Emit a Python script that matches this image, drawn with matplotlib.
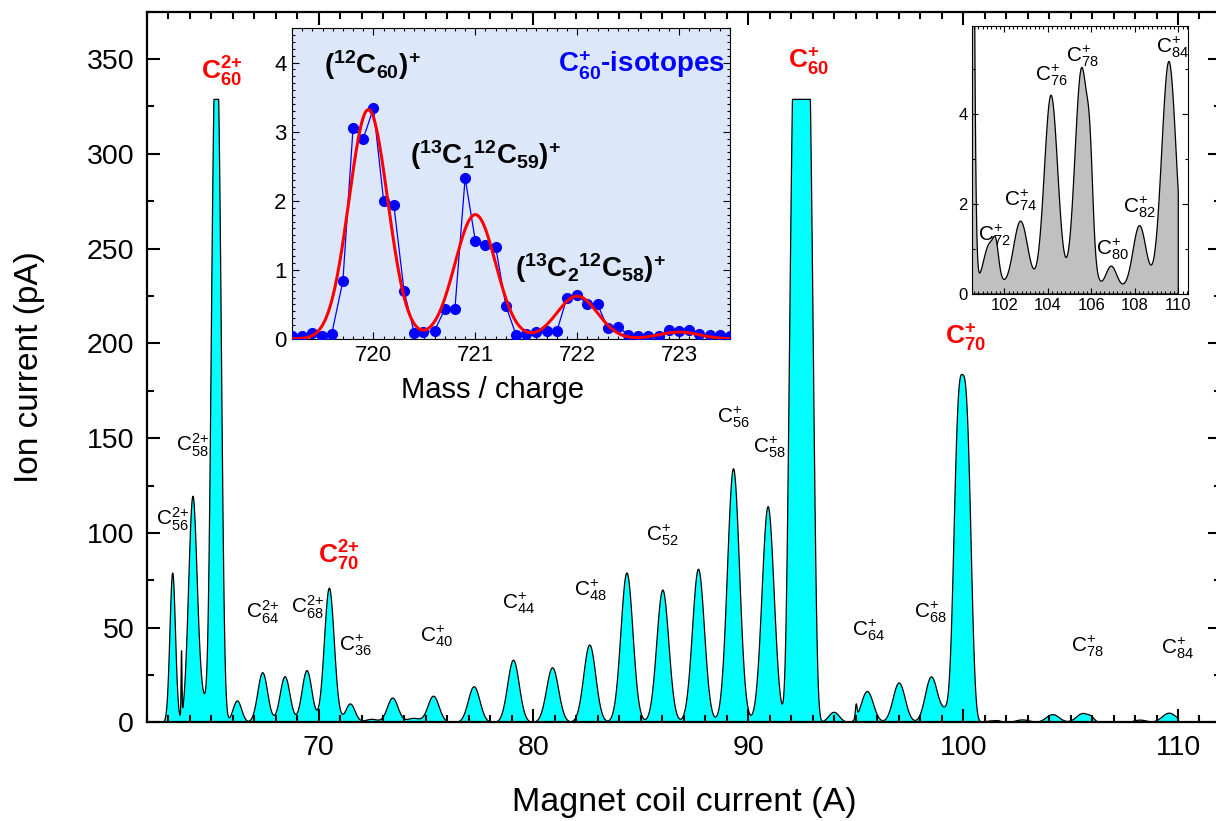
import numpy as np
import matplotlib
matplotlib.use('Agg')
import matplotlib.pyplot as plt
from matplotlib.ticker import MultipleLocator

plt.rcParams['font.family'] = ['Liberation Sans', 'DejaVu Sans']
plt.rcParams['mathtext.fontset'] = 'custom'
plt.rcParams['mathtext.rm'] = 'Liberation Sans'
plt.rcParams['mathtext.bf'] = 'Liberation Sans:bold'
plt.rcParams['mathtext.default'] = 'regular'

# main spectrum, described peak by peak: centre (A), height (pA), width (A), shape exponent
peak_pos = [63.19, 63.60, 64.13, 64.62, 65.22, 66.20, 67.38, 68.42, 69.44, 70.48,
            71.46, 72.45, 73.43, 74.40, 75.33, 77.22, 79.05, 80.87, 82.60, 84.33,
            86.00, 87.66, 89.29, 90.90, 92.45, 93.97, 95.00, 95.52, 97.00, 98.50,
            99.30, 99.95, 101.34, 101.62, 102.75, 104.15, 105.56, 105.95, 106.92,
            108.22, 109.57]
peak_height = [79, 34, 119, 10, 360, 11.5, 26.4, 24.3, 27.5, 71,
               9.9, 1.8, 13, 2.3, 14, 19, 33, 29, 41, 79,
               70, 81, 134, 114, 420, 5.5, 7, 16.5, 21, 24,
               7, 183, 1.0, 0.45, 1.5, 4.3, 4.9, 1.3, 0.5,
               1.4, 5.05]
peak_width = [0.13, 0.02, 0.2, 0.2, 0.22, 0.2, 0.23, 0.23, 0.23, 0.23,
              0.22, 0.3, 0.25, 0.3, 0.26, 0.27, 0.27, 0.28, 0.28, 0.28,
              0.28, 0.28, 0.28, 0.28, 0.5, 0.25, 0.04, 0.28, 0.28, 0.28,
              0.3, 0.363, 0.3, 0.12, 0.33, 0.31, 0.31, 0.13, 0.25,
              0.3, 0.33]
peak_shape = [2, 2, 2, 2, 2.5, 2, 2, 2, 2, 2,
              2, 2, 2, 2, 2, 2, 2, 2, 2, 2,
              2, 2, 2, 2, 4, 2, 2, 2, 2, 2,
              2, 3, 2, 2, 2, 2, 2, 2, 2,
              2, 2]
baseline = 0.12
saturation = 329.0
scan_start, scan_end = 62.8, 110.0

# C60+ isotope scan
mz = [719.20, 719.30, 719.40, 719.49, 719.59, 719.70, 719.80, 719.90, 720.00, 720.10,
      720.20, 720.30, 720.40, 720.49, 720.60, 720.70, 720.80, 720.90, 721.00, 721.10,
      721.20, 721.30, 721.40, 721.50, 721.60, 721.70, 721.80, 721.90, 722.00, 722.10,
      722.20, 722.30, 722.40, 722.50, 722.60, 722.70, 722.80, 722.90, 723.00, 723.10,
      723.20, 723.30, 723.40, 723.50]
iso_counts = [0.04, 0.04, 0.09, 0.05, 0.07, 0.84, 3.06, 2.90, 3.34, 2.00,
              1.94, 0.70, 0.09, 0.10, 0.12, 0.43, 0.44, 2.33, 1.42, 1.36,
              1.33, 0.48, 0.06, 0.07, 0.10, 0.11, 0.11, 0.60, 0.64, 0.50,
              0.50, 0.16, 0.18, 0.06, 0.04, 0.04, 0.04, 0.13, 0.12, 0.13,
              0.07, 0.06, 0.06, 0.04]
# gaussian fit of the isotope pattern
fit_pos = [719.95, 721.0, 722.0, 723.0]
fit_height = [3.32, 1.80, 0.62, 0.10]
fit_sigma = [0.19, 0.20, 0.20, 0.20]

# peak labels: text, x, y
red_labels = [(r'$\mathbf{C_{60}^{2{+}}}$', 65.5, 343),
              (r'$\mathbf{C_{70}^{2{+}}}$', 70.95, 88),
              (r'$\mathbf{C_{60}^{+}}$', 92.8, 349),
              (r'$\mathbf{C_{70}^{+}}$', 100.1, 203)]
black_labels = [(r'$C_{58}^{2{+}}$', 64.14, 146), (r'$C_{56}^{2{+}}$', 63.2, 107),
                (r'$C_{64}^{2{+}}$', 67.4, 58), (r'$C_{68}^{2{+}}$', 69.5, 61),
                (r'$C_{36}^{+}$', 71.7, 41), (r'$C_{40}^{+}$', 75.5, 45.5),
                (r'$C_{44}^{+}$', 79.3, 63), (r'$C_{48}^{+}$', 82.65, 70),
                (r'$C_{52}^{+}$', 86.0, 99), (r'$C_{56}^{+}$', 89.3, 161),
                (r'$C_{58}^{+}$', 91.0, 145), (r'$C_{64}^{+}$', 95.6, 48.6),
                (r'$C_{68}^{+}$', 98.5, 58), (r'$C_{78}^{+}$', 105.8, 40),
                (r'$C_{84}^{+}$', 110.0, 39)]
zoom_labels = [(r'$C_{72}^{+}$', 101.55, 1.31), (r'$C_{74}^{+}$', 102.74, 2.08),
               (r'$C_{76}^{+}$', 104.15, 4.87), (r'$C_{78}^{+}$', 105.6, 5.28),
               (r'$C_{80}^{+}$', 106.98, 1.0), (r'$C_{82}^{+}$', 108.2, 1.93),
               (r'$C_{84}^{+}$', 109.75, 5.49)]

x = np.linspace(scan_start, scan_end, 6000)
y = np.full_like(x, baseline)
for c, h, w, p in zip(peak_pos, peak_height, peak_width, peak_shape):
    y += h * np.exp(-0.5 * np.abs((x - c) / w) ** p)
y = np.minimum(y, saturation)

fig = plt.figure(figsize=(12.16, 8.21), dpi=100)
ax = fig.add_axes([0.1206, 0.12, 0.8835, 0.8658])
ax.fill_between(x, 0, y, facecolor='#00ffff', edgecolor='black', linewidth=0.9)
ax.set_xlim(62, 112)
ax.set_ylim(0, 375)
ax.xaxis.set_major_locator(MultipleLocator(10))
ax.xaxis.set_minor_locator(MultipleLocator(1))
ax.yaxis.set_major_locator(MultipleLocator(50))
ax.yaxis.set_minor_locator(MultipleLocator(25))
ax.tick_params(which='both', direction='in', top=True, right=True, width=1.5)
ax.tick_params(which='major', length=9.5, labelsize=20.5, pad=9)
ax.tick_params(which='minor', length=5)
for s in ax.spines.values():
    s.set_linewidth(1.6)
ax.set_xlabel('Magnet coil current (A)', fontsize=24.5, labelpad=19)
ax.set_ylabel('Ion current (pA)', fontsize=24, labelpad=30)

for t, tx, ty in red_labels:
    ax.text(tx, ty, t, color='red', fontsize=19, ha='center', va='center')
for t, tx, ty in black_labels:
    ax.text(tx, ty, t, color='black', fontsize=15, ha='center', va='center')

# isotope inset
ins = fig.add_axes([0.2401, 0.5871, 0.3602, 0.3788])
ins.set_facecolor('#dde7fa')
xf = np.linspace(719.2, 723.5, 1000)
yf = np.zeros_like(xf)
for c, h, s in zip(fit_pos, fit_height, fit_sigma):
    yf += h * np.exp(-0.5 * ((xf - c) / s) ** 2)
ins.plot(mz, iso_counts, '-o', color='#0000ff', linewidth=0.9, markersize=7, zorder=3)
ins.plot(xf, yf, color='red', linewidth=2.2, zorder=4)
ins.set_xlim(719.2, 723.5)
ins.set_ylim(0, 4.5)
ins.xaxis.set_major_locator(MultipleLocator(1))
ins.xaxis.set_minor_locator(MultipleLocator(0.1))
ins.yaxis.set_major_locator(MultipleLocator(1))
ins.yaxis.set_minor_locator(MultipleLocator(0.1))
ins.tick_params(which='both', direction='in', top=True, right=True, width=0.8)
ins.tick_params(which='major', length=5, labelsize=16, pad=4)
ins.tick_params(which='minor', length=2.5)
for s in ins.spines.values():
    s.set_linewidth(0.8)
ins.set_xlabel('Mass / charge', fontsize=21, labelpad=2)
ins.xaxis.set_label_coords(0.457, -0.12)
ins.text(719.99, 3.96, r'$\mathbf{(^{12}C_{60})^{+}}$', fontsize=20, ha='center', va='center')
ins.text(721.1, 2.66, r'$\mathbf{(^{13}C_{1}{}^{12}C_{59})^{+}}$', fontsize=20, ha='center', va='center')
ins.text(722.13, 1.03, r'$\mathbf{(^{13}C_{2}{}^{12}C_{58})^{+}}$', fontsize=20, ha='center', va='center')
ins.text(723.45, 3.96, r'$\mathbf{C_{60}^{+}}$-isotopes', fontsize=20, fontweight='bold',
         color='#0000ff', ha='right', va='center')

# zoom on the heavy fullerenes
zin = fig.add_axes([0.7991, 0.6419, 0.1781, 0.326])
zin.fill_between(x, 0, y, facecolor='#c0c0c0', edgecolor='black', linewidth=0.9)
zin.set_xlim(100.5, 110.46)
zin.set_ylim(0, 5.95)
zin.xaxis.set_major_locator(MultipleLocator(2))
zin.xaxis.set_minor_locator(MultipleLocator(0.2))
zin.yaxis.set_major_locator(MultipleLocator(2))
zin.yaxis.set_minor_locator(MultipleLocator(1))
zin.tick_params(which='both', direction='in', top=True, right=True, width=0.8)
zin.tick_params(which='major', length=4, labelsize=12, pad=3)
zin.tick_params(which='minor', length=2)
for s in zin.spines.values():
    s.set_linewidth(0.8)
for t, tx, ty in zoom_labels:
    zin.text(tx, ty, t, fontsize=15, ha='center', va='center')

plt.savefig('out.png', dpi=100)
